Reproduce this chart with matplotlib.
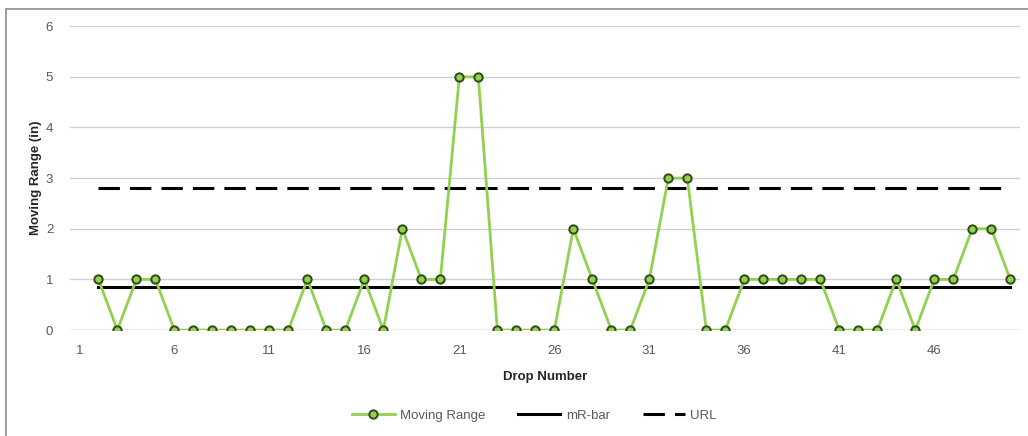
import numpy as np
import matplotlib as mpl
mpl.use('Agg')
import matplotlib.pyplot as plt
from matplotlib.patches import Rectangle

plt.rcParams['font.family'] = ['Liberation Sans', 'DejaVu Sans']

# moving range per drop (first drop has no range)
drops = list(range(2, 51))
moving_range = [1, 0, 1, 1, 0, 0, 0, 0, 0, 0, 0, 1, 0, 0, 1, 0, 2, 1, 1, 5,
                5, 0, 0, 0, 0, 2, 1, 0, 0, 1, 3, 3, 0, 0, 1, 1, 1, 1, 1, 0,
                0, 0, 1, 0, 1, 1, 2, 2, 1]
x_ticks = [1, 6, 11, 16, 21, 26, 31, 36, 41, 46]
y_ticks = [0, 1, 2, 3, 4, 5, 6]

mr_bar = np.mean(moving_range)
url = 3.267 * mr_bar

fig = plt.figure(figsize=(10.28, 4.36), dpi=100)
ax = fig.add_axes([0.068, 0.243, 0.924, 0.697])

green = '#92D050'
ax.plot(drops, moving_range, color=green, lw=2.0, marker='o', ms=6,
        mfc=green, mec='#2f4a17', mew=1.4, label='Moving Range', zorder=4)
ax.plot(drops, [mr_bar] * len(drops), color='black', lw=2.2, label='mR-bar', zorder=3)
ax.plot(drops, [url] * len(drops), color='black', lw=2.2, dashes=(7, 3.3),
        label='URL', zorder=3)

ax.set_xlim(0.5, 50.5)
ax.set_ylim(0, 6)
ax.set_xticks(x_ticks)
ax.set_yticks(y_ticks)
ax.tick_params(axis='both', length=0, labelsize=9.5, colors='#595959')
ax.tick_params(axis='x', pad=11)
ax.tick_params(axis='y', pad=12)
ax.yaxis.grid(True, color='#d0d0d0', lw=1.0)
ax.set_axisbelow(True)
for s in ax.spines.values():
    s.set_visible(False)
ax.axhline(0, color='#d0d0d0', lw=1.0, zorder=1)

ax.set_xlabel('Drop Number', fontsize=9.5, fontweight='bold', color='#262626', labelpad=10)
ax.set_ylabel('Moving Range (in)', fontsize=9.5, fontweight='bold', color='#262626', labelpad=3)

leg = fig.legend(loc='center', bbox_to_anchor=(0.52, 0.046), ncol=3, frameon=False,
                 fontsize=9.5, handlelength=3.2, columnspacing=2.5, handletextpad=0.4)
for t in leg.get_texts():
    t.set_color('#595959')

# chart border
fig.add_artist(Rectangle((0.006, -0.05), 1.1, 1.03, transform=fig.transFigure,
                         fill=False, ec='#8c8c8c', lw=1.2))

fig.savefig('out.png', dpi=100)
